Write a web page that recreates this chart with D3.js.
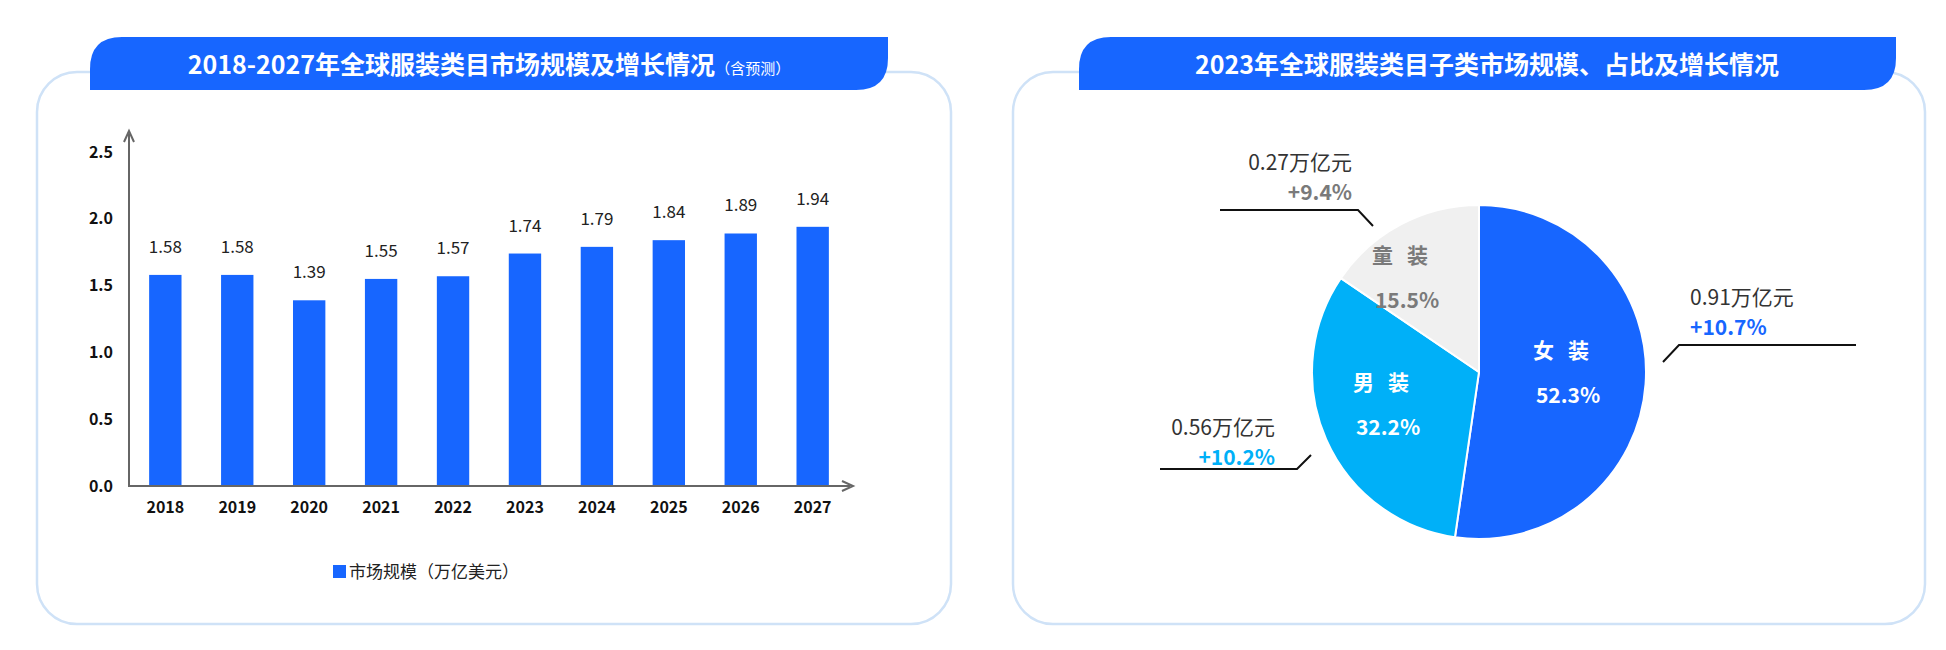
<!DOCTYPE html><html><head><meta charset="utf-8"><script src="https://cdn.jsdelivr.net/npm/d3@7"></script>
<style>body{margin:0;background:#fff}text{font-family:"Noto Sans CJK SC","Noto Sans",sans-serif}</style></head><body>
<svg id="c" width="1946" height="650"></svg>
<script>
const years=["2018","2019","2020","2021","2022","2023","2024","2025","2026","2027"];
const marketSize=[1.58,1.58,1.39,1.55,1.57,1.74,1.79,1.84,1.89,1.94];
const yTicks=[0,0.5,1.0,1.5,2.0,2.5];
const pieCats=["女装","男装","童装"];
const pieShares=[52.3,32.2,15.5];
const pieValues=["0.91万亿元","0.56万亿元","0.27万亿元"];
const pieGrowth=["+10.7%","+10.2%","+9.4%"];
const title1="2018-2027年全球服装类目市场规模及增长情况",title1b="（含预测）";
const title2="2023年全球服装类目子类市场规模、占比及增长情况";
const legendLabel="市场规模（万亿美元）";

const svg=d3.select("#c");
const blue="#1766FF";
function card(x0,x1,tx0,tx1){
  svg.append("rect").attr("x",x0).attr("y",72).attr("width",x1-x0).attr("height",552).attr("rx",40).attr("fill","#fff").attr("stroke","#cfe2f7").attr("stroke-width",2.5);
  const r=32,y0=37,y1=90;
  svg.append("path").attr("fill",blue).attr("d",`M${tx0},${y1}L${tx0},${y0+r}Q${tx0},${y0} ${tx0+r},${y0}L${tx1},${y0}L${tx1},${y1-r}Q${tx1},${y1} ${tx1-r},${y1}Z`);
}
card(37,951,90,888);card(1013,1925,1079,1896);
const t1=svg.append("text").attr("x",489).attr("y",74).attr("text-anchor","middle").attr("fill","#fff").attr("font-weight","bold").attr("font-size",25);
t1.append("tspan").text(title1);t1.append("tspan").attr("font-size",15).attr("font-weight","normal").text(title1b);
svg.append("text").attr("x",1487).attr("y",74).attr("text-anchor","middle").attr("fill","#fff").attr("font-weight","bold").attr("font-size",25).text(title2);

// bar chart
const x=d3.scaleBand().domain(years).range([129,849]).paddingInner(0.55).paddingOuter(0.28);
const y=d3.scaleLinear().domain([0,2.5]).range([486,152]);
const g=svg.append("g");
g.selectAll(".b").data(marketSize).join("rect").attr("x",(d,i)=>x(years[i])).attr("width",x.bandwidth()).attr("y",d=>y(d)).attr("height",d=>486-y(d)).attr("fill",blue);
g.selectAll(".v").data(marketSize).join("text").attr("x",(d,i)=>x(years[i])+x.bandwidth()/2).attr("y",d=>y(d)-22).attr("text-anchor","middle").attr("font-size",17).attr("fill","#222").text(d=>d.toFixed(2));
const ya=d3.axisLeft(y).tickValues(yTicks).tickFormat(d3.format(".1f")).tickSize(0).tickPadding(16);
const yg=g.append("g").attr("transform","translate(129,0)").call(ya);
yg.select(".domain").remove();
yg.selectAll("text").attr("font-size",16).attr("font-weight","bold").attr("fill","#111").attr("font-family","Noto Sans,sans-serif");
const xa=d3.axisBottom(x).tickSize(0).tickPadding(16);
const xg=g.append("g").attr("transform","translate(0,486)").call(xa);
xg.select(".domain").remove();
xg.selectAll("text").attr("font-size",16).attr("font-weight","bold").attr("fill","#111").attr("font-family","Noto Sans,sans-serif");
g.append("line").attr("x1",129).attr("y1",487).attr("x2",129).attr("y2",134).attr("stroke","#666").attr("stroke-width",2);
g.append("line").attr("x1",128).attr("y1",486).attr("x2",850).attr("y2",486).attr("stroke","#666").attr("stroke-width",2);
g.append("path").attr("d","M124,142L129,131L134,142").attr("fill","none").attr("stroke","#666").attr("stroke-width",2);
g.append("path").attr("d","M842,481L853,486L842,491").attr("fill","none").attr("stroke","#666").attr("stroke-width",2);
g.append("rect").attr("x",333).attr("y",565).attr("width",13).attr("height",13).attr("fill",blue);
g.append("text").attr("x",349).attr("y",578).attr("font-size",17).attr("fill","#222").text(legendLabel);

// pie
const cx=1479,cy=372,R=167;
const colors=["#1766FF","#00B0F8","#F0F0F0"];
const textCol=["#fff","#fff","#7a7a7a"];
const growCol=[blue,"#00B0F8","#7a7a7a"];
const arcs=d3.pie().sort(null)(pieShares);
const arc=d3.arc().innerRadius(0).outerRadius(R);
const pg=svg.append("g").attr("transform",`translate(${cx},${cy})`);
pg.selectAll("path").data(arcs).join("path").attr("d",arc).attr("fill",(d,i)=>colors[i]).attr("stroke","#fff").attr("stroke-width",2);
const inner=[[89,-14],[-91,18],[-72,-109]];
arcs.forEach((a,i)=>{
  pg.append("text").attr("x",inner[i][0]).attr("y",inner[i][1]).attr("text-anchor","middle").attr("font-size",21).attr("font-weight","bold").attr("fill",textCol[i]).attr("letter-spacing",14).text(pieCats[i]);
  pg.append("text").attr("x",inner[i][0]).attr("y",inner[i][1]+45).attr("text-anchor","middle").attr("font-size",21).attr("font-weight","bold").attr("fill",textCol[i]).text(pieShares[i].toFixed(1)+"%");
});
const lab=[{x:1690,a:"start",y:305,line:"M1663,362L1679,345L1856,345"},
           {x:1275,a:"end",y:435,line:"M1160,469L1297,469L1311,455"},
           {x:1352,a:"end",y:170,line:"M1220,210L1358,210L1373,226"}];
lab.forEach((l,i)=>{
  svg.append("text").attr("x",l.x).attr("y",l.y).attr("text-anchor",l.a).attr("font-size",21).attr("fill","#333").text(pieValues[i]);
  svg.append("text").attr("x",l.a==="end"?l.x:l.x).attr("y",l.y+30).attr("text-anchor",l.a).attr("font-size",21).attr("font-weight","bold").attr("fill",growCol[i]).text(pieGrowth[i]);
  svg.append("path").attr("d",l.line).attr("fill","none").attr("stroke","#111").attr("stroke-width",2);
});
</script></body></html>
